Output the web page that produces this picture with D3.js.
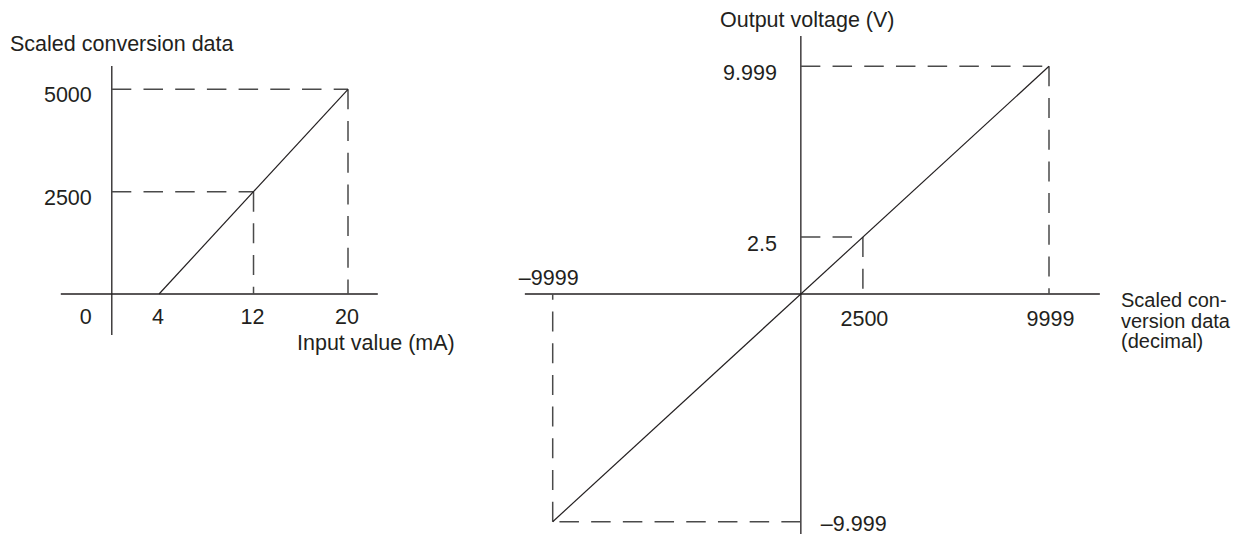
<!DOCTYPE html>
<html>
<head>
<meta charset="utf-8">
<script src="https://cdn.jsdelivr.net/npm/d3@7"></script>
<style>
  html, body { margin: 0; padding: 0; background: #fff; }
  svg { display: block; }
  text { font-family: "Liberation Sans", Arial, Helvetica, sans-serif; fill: #231f20; }
</style>
</head>
<body>
<svg id="chart" width="1250" height="535"></svg>
<script>
// ---- Left chart data ----
const leftXTicks = [0, 4, 12, 20];
const leftXTickLabels = ["0", "4", "12", "20"];
const leftYTicks = [2500, 5000];
const leftYTickLabels = ["2500", "5000"];
const leftInput = [4, 20];          // mA
const leftOutput = [0, 5000];       // scaled data
const leftGuideX = [12, 20];
const leftGuideY = [2500, 5000];
const leftTitleY = "Scaled conversion data";
const leftTitleX = "Input value (mA)";

// ---- Right chart data ----
const rightInput = [-9999, 9999];        // scaled data
const rightOutput = [-9.999, 9.999];     // V
const rightGuideX = [9999, 2500, -9999];
const rightGuideY = [9.999, 2.5, -9.999];
const rightXTickLabels = ["\u20139999", "2500", "9999"];
const rightXTickValues = [-9999, 2500, 9999];
const rightYTickLabels = ["9.999", "2.5", "\u20139.999"];
const rightYTickValues = [9.999, 2.5, -9.999];
const rightTitleY = "Output voltage (V)";
const rightTitleX = ["Scaled con-", "version data", "(decimal)"];

const svg = d3.select("#chart");
const FS = 21.5;
const INK = "#231f20";
const DASH = "#4a4a4a";

// ===== Left chart =====
const xL = d3.scaleLinear().domain([0, 20]).range([111.8, 348]);
const yL = d3.scaleLinear().domain([0, 5000]).range([294, 89.3]);
const gL = svg.append("g");

// axes lines
gL.append("line").attr("x1", xL(0)).attr("x2", xL(0))
  .attr("y1", yL(0) - 228).attr("y2", yL(0) + 41)
  .attr("stroke", INK).attr("stroke-width", 1.3);
gL.append("line").attr("x1", xL(0) - 51).attr("x2", xL(0) + 266)
  .attr("y1", yL(0)).attr("y2", yL(0))
  .attr("stroke", INK).attr("stroke-width", 1.3);

// dashed guides
const lineL = d3.line().x(d => xL(d[0])).y(d => yL(d[1]));
leftGuideX.forEach((gx, i) => {
  const gy = leftGuideY[i];
  gL.append("path").attr("d", lineL([[0, gy], [gx, gy]]))
    .attr("fill", "none").attr("stroke", DASH).attr("stroke-width", 1.5)
    .attr("stroke-dasharray", "19.5,12.2");
  gL.append("path").attr("d", lineL([[gx, gy], [gx, 0]]))
    .attr("fill", "none").attr("stroke", DASH).attr("stroke-width", 1.5)
    .attr("stroke-dasharray", "20,11.7");
});

// conversion line
gL.append("path").attr("d", lineL(leftInput.map((v, i) => [v, leftOutput[i]])))
  .attr("fill", "none").attr("stroke", INK).attr("stroke-width", 1.2);

// tick labels
leftXTicks.forEach((t, i) => {
  const x = t === 0 ? xL(0) - 26 : xL(t) - 1;
  gL.append("text").attr("x", x).attr("y", yL(0) + 29.5)
    .attr("text-anchor", "middle").attr("font-size", FS).text(leftXTickLabels[i]);
});
leftYTicks.forEach((t, i) => {
  gL.append("text").attr("x", xL(0) - 20).attr("y", yL(t) + 13)
    .attr("text-anchor", "end").attr("font-size", FS).text(leftYTickLabels[i]);
});
gL.append("text").attr("x", 10).attr("y", 50.7).attr("font-size", FS).text(leftTitleY);
gL.append("text").attr("x", 297).attr("y", 350).attr("font-size", FS).text(leftTitleX);

// ===== Right chart =====
const xR = d3.scaleLinear().domain([-9999, 9999]).range([552.7, 1049]);
const yR = d3.scaleLinear().domain([-9.999, 9.999]).range([521.7, 66.3]);
const gR = svg.append("g");

gR.append("line").attr("x1", xR(0)).attr("x2", xR(0))
  .attr("y1", yR(0) - 258).attr("y2", yR(0) + 240)
  .attr("stroke", INK).attr("stroke-width", 1.3);
gR.append("line").attr("x1", xR(0) - 276).attr("x2", xR(0) + 299)
  .attr("y1", yR(0)).attr("y2", yR(0))
  .attr("stroke", INK).attr("stroke-width", 1.3);

const lineR = d3.line().x(d => xR(d[0])).y(d => yR(d[1]));
rightGuideX.forEach((gx, i) => {
  const gy = rightGuideY[i];
  gR.append("path").attr("d", lineR([[0, gy], [gx, gy]]))
    .attr("fill", "none").attr("stroke", DASH).attr("stroke-width", 1.5)
    .attr("stroke-dasharray", "19.5,12.2");
  gR.append("path").attr("d", lineR([[gx, gy], [gx, 0]]))
    .attr("fill", "none").attr("stroke", DASH).attr("stroke-width", 1.5)
    .attr("stroke-dasharray", "20,11.7");
});

gR.append("path").attr("d", lineR(rightInput.map((v, i) => [v, rightOutput[i]])))
  .attr("fill", "none").attr("stroke", INK).attr("stroke-width", 1.2);

// x tick labels
rightXTickValues.forEach((t, i) => {
  const neg = t < 0;
  gR.append("text")
    .attr("x", xR(t) + (neg ? -4 : 1.5))
    .attr("y", neg ? yR(0) - 9 : yR(0) + 32)
    .attr("text-anchor", "middle").attr("font-size", FS).text(rightXTickLabels[i]);
});
// y tick labels
rightYTickValues.forEach((t, i) => {
  const neg = t < 0;
  gR.append("text")
    .attr("x", neg ? xR(0) + 20 : xR(0) - 24)
    .attr("y", neg ? yR(t) + 9.5 : yR(t) + 13.5)
    .attr("text-anchor", neg ? "start" : "end").attr("font-size", FS).text(rightYTickLabels[i]);
});
gR.append("text").attr("x", 720).attr("y", 26.7).attr("font-size", FS).text(rightTitleY);
const tX = gR.append("text").attr("x", 1121).attr("y", 307).attr("font-size", 20);
rightTitleX.forEach((s, i) => {
  tX.append("tspan").attr("x", 1121).attr("dy", i === 0 ? 0 : 20.5).text(s);
});
</script>
</body>
</html>
